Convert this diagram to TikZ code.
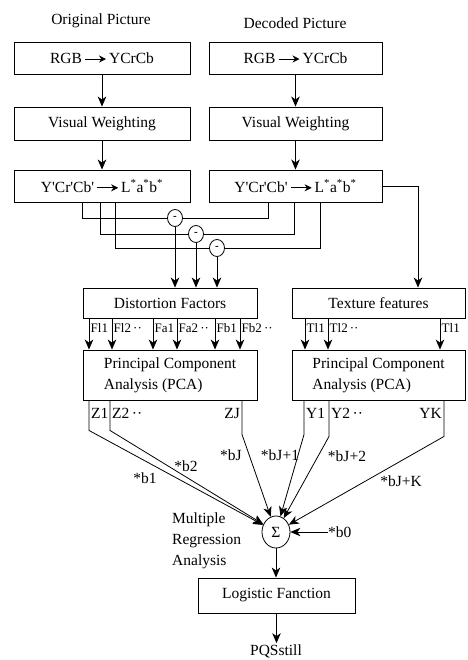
\documentclass[tikz,border=0pt]{standalone}
\usepackage{fontspec}
\setmainfont{Liberation Serif}
\usetikzlibrary{arrows.meta,shapes.geometric,calc}
\newcommand{\rarr}{\tikz[baseline=-0.6ex]\draw[line width=0.9pt,-{Stealth[length=7pt,width=7pt]}](0pt,0pt)--(21pt,0pt);}
\newcommand{\pr}{\textquotesingle}
\begin{document}
\begin{tikzpicture}[x=1pt,y=-1pt,
  every node/.style={font=\fontsize{15.5}{21}\selectfont},
  box/.style={draw,line width=0.9pt,minimum height=32pt,inner sep=0pt,align=center},
  lbl/.style={inner sep=0pt,font=\fontsize{13}{14}\selectfont},
  txt/.style={inner sep=0pt},
  arr/.style={-{Stealth[length=10pt,width=8.5pt,inset=3pt]}},
  ln/.style={line width=0.8pt},
  minus/.style={draw,ellipse,line width=0.8pt,minimum width=15pt,minimum height=17pt,inner sep=0pt,font=\fontsize{11}{11}\selectfont\bfseries},
]
\useasboundingbox (0,0) rectangle (467,660);

% titles
\node[txt] (t1) at (101,21) {Original Picture};
\node[txt] (t2) at (295,23) {Decoded Picture};

% top boxes
\node[box,minimum width=176pt] (rgbL) at (102,58) {RGB\,\rarr\,YCrCb};
\node[box,minimum width=173pt] (rgbR) at (295.5,58) {RGB\,\rarr\,YCrCb};
\node[box,minimum width=176pt,minimum height=33pt] (vwL) at (102,123.5) {Visual Weighting};
\node[box,minimum width=173pt,minimum height=33pt] (vwR) at (295.5,123.5) {Visual Weighting};
\node[box,minimum width=176pt] (labL) at (102,186) {Y\pr Cr\pr Cb\pr\,\rarr\,L\textsuperscript{*}a\textsuperscript{*}b\textsuperscript{*}};
\node[box,minimum width=173pt] (labR) at (295.5,186) {Y\pr Cr\pr Cb\pr\,\rarr\,L\textsuperscript{*}a\textsuperscript{*}b\textsuperscript{*}};

\draw[ln,arr] (rgbL.south) -- (vwL.north);
\draw[ln,arr] (vwL.south) -- (labL.north);
\draw[ln,arr] (rgbR.south) -- (vwR.north);
\draw[ln,arr] (vwR.south) -- (labR.north);

% middle boxes
\node[box,minimum width=174pt,minimum height=30pt] (dist) at (170,303) {Distortion Factors};
\node[box,minimum width=173pt,minimum height=30pt] (tex) at (378.5,303) {Texture features};
\node[box,minimum width=174pt,minimum height=50pt,align=left] (pcaL) at (170,375) {Principal Component\\Analysis (PCA)};
\node[box,minimum width=173pt,minimum height=50pt,align=left] (pcaR) at (378.5,375) {Principal Component\\Analysis (PCA)};

% difference circles
\node[minus] (m1) at (175,218) {-};
\node[minus] (m2) at (196,234) {-};
\node[minus] (m3) at (217,248) {-};

\coordinate (a1) at (82,0);
\coordinate (a2) at (100,0);
\coordinate (a3) at (115,0);
\coordinate (b1) at (268,0);
\coordinate (b2) at (294,0);
\coordinate (b3) at (320,0);
\draw[ln] (a1 |- labL.south) |- (m1.west);
\draw[ln] (a2 |- labL.south) |- (m2.west);
\draw[ln] (a3 |- labL.south) |- (m3.west);
\draw[ln] (m1.east) -| (b1 |- labR.south);
\draw[ln] (m2.east) -| (b2 |- labR.south);
\draw[ln] (m3.east) -| (b3 |- labR.south);
\draw[ln,arr] (m1.south) -- (m1.south |- dist.north);
\draw[ln,arr] (m2.south) -- (m2.south |- dist.north);
\draw[ln,arr] (m3.south) -- (m3.south |- dist.north);

\coordinate (xt) at (418,0);
\draw[ln,arr] (labR.east) -| (xt |- tex.north);

% feature arrows
\foreach \x/\t [count=\i] in {89/Fl1,112/Fl2\,··,153/Fa1,177/Fa2\,··,215/Fb1,240/Fb2\,··}{
  \coordinate (f\i) at (\x,0);
  \draw[ln,arr] (f\i |- dist.south) -- (f\i |- pcaL.north);
  \node[lbl,anchor=west] (fl\i) at ($(f\i |- dist.south)+(1.5,10)$) {\t};
}
\foreach \x/\t [count=\i] in {305/Tl1,328/Tl2\,··,440/Tl1}{
  \coordinate (g\i) at (\x,0);
  \draw[ln,arr] (g\i |- tex.south) -- (g\i |- pcaR.north);
  \node[lbl,anchor=west] (gl\i) at ($(g\i |- tex.south)+(1.5,10)$) {\t};
}

% sigma
\node[draw,ellipse,line width=0.8pt,minimum width=28pt,minimum height=32pt,inner sep=0pt] (sig) at (276,532) {Σ};

\coordinate (z1) at (89,0);
\coordinate (z2) at (110,0);
\coordinate (zJ) at (242,0);
\coordinate (y1) at (304,0);
\coordinate (y2) at (329,0);
\coordinate (yK) at (444,0);
\draw[ln,arr] (z1 |- pcaL.south) -- ++(0,30) -- (sig);
\draw[ln,arr] (z2 |- pcaL.south) -- ++(0,30) -- (sig);
\draw[ln,arr] (zJ |- pcaL.south) -- ++(0,34) -- (sig);
\draw[ln,arr] (y1 |- pcaR.south) -- ++(0,34) -- (sig);
\draw[ln,arr] (y2 |- pcaR.south) -- ++(0,36) -- (sig);
\draw[ln,arr] (yK |- pcaR.south) -- ++(0,36) -- (sig);

\node[txt,anchor=west] (zl1) at ($(z1 |- pcaL.south)+(2,13)$) {Z1};
\node[txt,anchor=west] (zl2) at ($(z2 |- pcaL.south)+(2,13)$) {Z2\,··};
\node[txt,anchor=east] (zlJ) at ($(zJ |- pcaL.south)+(-2,13)$) {ZJ};
\node[txt,anchor=west] (yl1) at ($(y1 |- pcaR.south)+(2,13)$) {Y1};
\node[txt,anchor=west] (yl2) at ($(y2 |- pcaR.south)+(2,13)$) {Y2\,··};
\node[txt,anchor=east] (ylK) at ($(yK |- pcaR.south)+(-2,13)$) {YK};

\node[txt] (w1) at (145,478) {*b1};
\node[txt] (w2) at (186,466) {*b2};
\node[txt] (wJ) at (231,455) {*bJ};
\node[txt] (wJ1) at (280,455) {*bJ+1};
\node[txt] (wJ2) at (347,456) {*bJ+2};
\node[txt] (wJK) at (401,481) {*bJ+K};

\node[txt,anchor=west] (b0) at (328,532) {*b0};
\draw[ln,arr] (b0.west) -- (sig.east);

\node[txt,anchor=west,align=left] (mra) at (172,541) {Multiple\\Regression\\Analysis};

% bottom
\node[box,minimum width=157pt,minimum height=35pt] (logi) at (276.5,595.5) {Logistic Fanction};
\draw[ln,arr] (sig.south) -- (sig.south |- logi.north);
\node[inner sep=1pt] (pqs) at (276,651) {PQSstill};
\draw[ln,arr] (logi.south) -- (logi.south |- pqs.north);
\end{tikzpicture}
\end{document}
